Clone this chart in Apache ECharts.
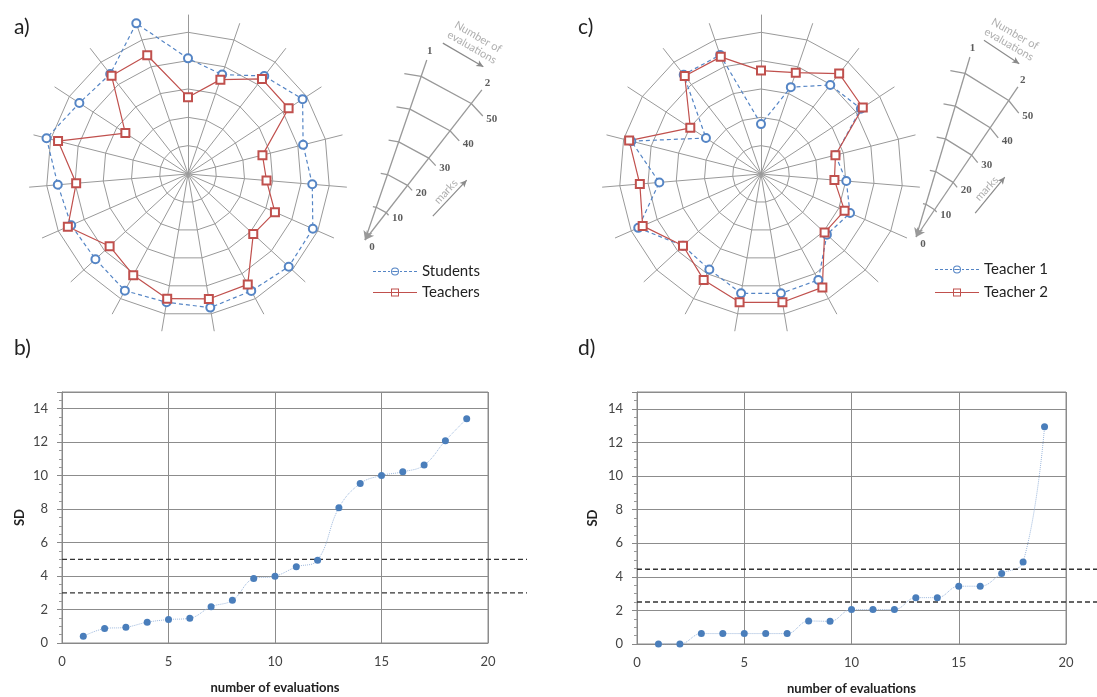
<!DOCTYPE html>
<html><head><meta charset="utf-8">
<script src="https://cdn.jsdelivr.net/npm/echarts@6/dist/echarts.min.js"></script>
<style>html,body{margin:0;padding:0;background:#fff}#c{width:1097px;height:697px}</style>
</head><body><div id="c"></div>
<script>
// ---------------- data ----------------
const spokeCount = 19;
// marks on each spoke, clockwise from the top spoke
const studentsMarks = [40.8,37.1,43.8,48.3,41.9,44.0,48.1,48.3,46.9,47.8,45.9,46.8,44.4,45.0,46.1,51.5,45.8,44.7,56.2];
const teachersMarks = [27.1,35.2,42.5,42.4,27.1,27.8,33.5,31.3,44.3,44.7,44.6,40.6,37.6,46.3,39.6,47.3,26.4,43.9,44.3];
const teacher1Marks = [17.6,32.4,39.8,42.1,27.1,30.2,34.3,31.6,42.5,42.7,42.7,38.3,37.4,47.3,36.0,47.2,23.2,44.4,44.4];
const teacher2Marks = [36.5,37.8,44.9,42.9,27.1,26.0,32.2,30.5,45.5,45.9,45.9,42.5,37.4,45.6,42.9,48.0,29.8,43.8,43.7];
const evaluations = [1,2,3,4,5,6,7,8,9,10,11,12,13,14,15,16,17,18,19];
const sdB = [0.40,0.86,0.94,1.24,1.40,1.48,2.17,2.55,3.85,3.99,4.55,4.95,8.08,9.53,10.01,10.23,10.63,12.09,13.40];
const sdD = [0,0,0.62,0.62,0.62,0.62,0.62,1.37,1.35,2.05,2.05,2.05,2.76,2.76,3.44,3.44,4.19,4.88,12.93];
const limitsB = [5, 3];
const limitsD = [4.45, 2.5];
const markTicks = [10,20,30,40,50];
const evalTicks = ['1','2'];
const xTicks = [0,5,10,15,20];
const yTicks = [0,2,4,6,8,10,12,14];

// ---------------- styles ----------------
const BLUE = '#5585c5', RED = '#c0504d', GRID = '#999999', DOT = '#4a7ebb';
const FONT = 'Lato';

const ccw = arr => arr.map((_, i) => arr[(spokeCount - i) % spokeCount]);

function radarPair(cx) {
  return [
    {center:[cx,174], radius:141.7, startAngle:90, shape:'polygon', splitNumber:5,
     indicator: evaluations.map(() => ({name:'', min:0, max:50})),
     axisName:{show:false}, axisLine:{show:false},
     splitLine:{lineStyle:{color:GRID,width:1}}, splitArea:{show:false}},
    {center:[cx,174], radius:159, startAngle:90, shape:'polygon', splitNumber:1,
     indicator: evaluations.map(() => ({name:'', min:0, max:56})),
     axisName:{show:false}, axisLine:{lineStyle:{color:GRID,width:1}},
     splitLine:{show:false}, splitArea:{show:false}}
  ];
}

const ICON_CIRCLE = 'path://M0 3.5h3v1h-3z M5 3.5h3v1h-3z M10 3.5h3v1h-3z M15 3.5h2v1h-2z' +
  'M18 4a4 4 0 1 1 8 0a4 4 0 1 1 -8 0z M19 4a3 3 0 1 0 6 0a3 3 0 1 0 -6 0z M19.3 3.5h5.4v1h-5.4z' +
  'M27 3.5h2v1h-2z M31 3.5h3v1h-3z M36 3.5h3v1h-3z M41 3.5h3v1h-3z';
const ICON_SQUARE = 'path://M0 3.5h18v1h-18z M18 0h8v8h-8z M19 1v6h6v-6z M19 3.5h6v1h-6z M26 3.5h18v1h-18z';

function radarSeries(idx, names, arrs) {
  return {type:'radar', radarIndex:idx, symbolSize:8, silent:true, animation:false,
    data:[
      {name:names[0], value:ccw(arrs[0]), symbol:'emptyCircle',
       itemStyle:{color:BLUE, borderWidth:1}, lineStyle:{color:BLUE, width:1.2, type:[4,3]}},
      {name:names[1], value:ccw(arrs[1]), symbol:'emptyRect',
       itemStyle:{color:RED, borderWidth:1}, lineStyle:{color:RED, width:1.2}}
    ]};
}

function legendFor(names, left, top, w, gap) {
  return {data:[{name:names[0], icon:ICON_CIRCLE, itemStyle:{color:BLUE,borderWidth:0}},
                {name:names[1], icon:ICON_SQUARE, itemStyle:{color:RED,borderWidth:0}}],
    orient:'vertical', left:left, top:top, itemWidth:w, itemHeight:8, itemGap:gap,
    selectedMode:false, textStyle:{fontSize:15, color:'#222', fontFamily:FONT}};
}

// ---- wedge geometry (in marks units) ----
const S = 3.46; // px per mark
const step = 2*Math.PI/spokeCount;
const pt = (r, k) => [r*Math.sin(k*step), r*Math.cos(k*step)];
const lerp = (a, b, f) => [a[0]+(b[0]-a[0])*f, a[1]+(b[1]-a[1])*f];

function wedgeGrid(ox, oy) {
  return {left: ox - 20*S, top: oy - 60*S, width: 80*S, height: 70*S, show:false};
}
function wedgeAxes(gi) {
  const hid = {show:false};
  return [
    {gridIndex:gi, type:'value', min:-20, max:60, show:false, splitLine:hid},
    {gridIndex:gi, type:'value', min:-10, max:60, show:false, splitLine:hid}
  ];
}
function wedgeSeries(ax) {
  const out = [];
  markTicks.forEach(t => {
    const p1 = pt(t,1), p2 = pt(t,2);
    out.push({type:'line', xAxisIndex:ax, yAxisIndex:ax, clip:false, silent:true, animation:false,
      symbol:'none', lineStyle:{color:GRID, width:1.3},
      data:[lerp(p1, pt(t,0), 0.3), p1, p2, lerp(p2, pt(t,3), 0.3)]});
  });
  const lab = [];
  markTicks.forEach(t => {
    const p2 = pt(t,2);
    lab.push({value: lerp(p2, pt(t,3), 0.3),
      label:{formatter:String(t), position:'right', distance:3, offset:[0,3]}});
  });
  evalTicks.forEach((s, i) => {
    lab.push({value: pt(57.6, i+1), label:{formatter:s, position:'inside'}});
  });
  lab.push({value:[0,0], label:{formatter:'0', position:'inside', offset:[7,7]}});
  lab.push({value:[31.8,57.2], label:{formatter:'Number of\nevaluations', position:'inside', rotate:-30,
     color:'#9a9a9a', fontWeight:'normal', fontFamily:FONT, fontSize:11, lineHeight:12}});
  lab.push({value:[23.4,14.0], label:{formatter:'marks', position:'inside', rotate:47,
     color:'#9a9a9a', fontWeight:'normal', fontFamily:FONT, fontSize:11}});
  const arrowStyle = {color:'#8a8a8a', width:1.2, type:'solid'};
  out.push({type:'scatter', xAxisIndex:ax, yAxisIndex:ax, clip:false, silent:true, animation:false,
    symbolSize:1, itemStyle:{color:'rgba(0,0,0,0)'},
    label:{show:true, color:'#333', fontSize:11, fontWeight:'bold', fontFamily:'Liberation Serif'},
    data:lab,
    markLine:{silent:true, animation:false, label:{show:false}, symbolSize:[7,9],
      lineStyle:{color:GRID, width:1.3, type:'solid'},
      data:[
        [{coord:[0,0], symbol:'arrow'}, {coord:pt(55,1), symbol:'none'}],
        [{coord:[0,0], symbol:'arrow'}, {coord:pt(55,2), symbol:'none'}],
        [{coord:[22.5,56.9], symbol:'none', lineStyle:arrowStyle}, {coord:[34.2,50.1], symbol:'arrow', symbolSize:[5,7]}],
        [{coord:[19.6,6.9], symbol:'none', lineStyle:arrowStyle}, {coord:[29.4,17.3], symbol:'arrow', symbolSize:[5,7]}]
      ]}});
  return out;
}

// ---- line charts ----
function sdAxes(gi, nameGapY) {
  return {
    x: {gridIndex:gi, type:'value', min:0, max:20, interval:5,
      axisLine:{lineStyle:{color:'#888'}}, axisTick:{show:false},
      axisLabel:{fontSize:13, color:'#444', margin:12, fontFamily:FONT},
      splitLine:{lineStyle:{color:'#8c8c8c', width:1}},
      name:'number of evaluations', nameLocation:'middle', nameGap:38,
      nameTextStyle:{fontWeight:'bold', fontSize:13, color:'#222', fontFamily:FONT}},
    y: {gridIndex:gi, type:'value', min:0, max:15, interval:2,
      axisLine:{show:true, lineStyle:{color:'#888'}},
      axisTick:{show:true, length:5, lineStyle:{color:'#888'}},
      minorTick:{show:true, splitNumber:4, length:3, lineStyle:{color:'#999'}},
      axisLabel:{fontSize:13, color:'#444', margin:14, fontFamily:FONT, showMaxLabel:false,
        formatter: v => yTicks.includes(v) ? String(v) : ''},
      splitLine:{lineStyle:{color:'#8c8c8c', width:1}},
      name:'SD', nameLocation:'middle', nameRotate:90, nameGap:nameGapY,
      nameTextStyle:{fontWeight:'bold', fontSize:13, color:'#222', fontFamily:FONT}}
  };
}
function hiddenAxes(gi) {
  return [
    {gridIndex:gi, type:'value', min:0, max:1, show:false, splitLine:{show:false}},
    {gridIndex:gi, type:'value', min:0, max:15, show:false, splitLine:{show:false}}
  ];
}
function sdSeries(ax, vals) {
  return {type:'line', xAxisIndex:ax, yAxisIndex:ax, smooth:0.4, animation:false, silent:true,
    symbol:'circle', symbolSize:7, itemStyle:{color:DOT},
    lineStyle:{color:'#9db8dc', width:1, type:'dotted'},
    data: evaluations.map((x, i) => [x, vals[i]])};
}
function limitSeries(ax, limits) {
  return limits.map(t => ({type:'line', xAxisIndex:ax, yAxisIndex:ax, symbol:'none', silent:true,
    animation:false, lineStyle:{color:'#333', width:1.3, type:[5,3]}, data:[[0,t],[1,t]]}));
}

const bAx = sdAxes(0, 36), dAx = sdAxes(2, 38);
const wA = wedgeAxes(4), wC = wedgeAxes(5);
const hB = hiddenAxes(1), hD = hiddenAxes(3);

const titleStyle = {fontSize:21, fontWeight:'normal', color:'#222', fontFamily:FONT};
const option = {
  animation:false,
  textStyle:{fontFamily:FONT},
  title:[
    {text:'a)', left:9, top:12, textStyle:titleStyle},
    {text:'b)', left:9, top:333, textStyle:titleStyle},
    {text:'c)', left:573, top:12, textStyle:titleStyle},
    {text:'d)', left:573, top:333, textStyle:titleStyle}
  ],
  radar: radarPair(188).concat(radarPair(761)),
  legend:[legendFor(['Students','Teachers'], 368, 259, 44, 6),
          legendFor(['Teacher 1','Teacher 2'], 930, 257, 44, 8)],
  grid:[
    {left:62, top:392, width:426, height:251, show:true, borderColor:'#8c8c8c', borderWidth:1},
    {left:62, top:392, width:465, height:251, show:false},
    {left:637, top:392, width:429, height:252, show:true, borderColor:'#8c8c8c', borderWidth:1},
    {left:637, top:392, width:460, height:252, show:false},
    wedgeGrid(365, 240),
    wedgeGrid(925, 237)
  ],
  xAxis:[bAx.x, hB[0], dAx.x, hD[0], wA[0], wC[0]],
  yAxis:[bAx.y, hB[1], dAx.y, hD[1], wA[1], wC[1]],
  series:[
    radarSeries(0, ['Students','Teachers'], [studentsMarks, teachersMarks]),
    radarSeries(2, ['Teacher 1','Teacher 2'], [teacher1Marks, teacher2Marks]),
    sdSeries(0, sdB),
    sdSeries(2, sdD),
    ...limitSeries(1, limitsB),
    ...limitSeries(3, limitsD),
    ...wedgeSeries(4),
    ...wedgeSeries(5)
  ]
};
const chart = echarts.init(document.getElementById('c'), null, {renderer:'canvas'});
chart.setOption(option);
</script></body></html>
